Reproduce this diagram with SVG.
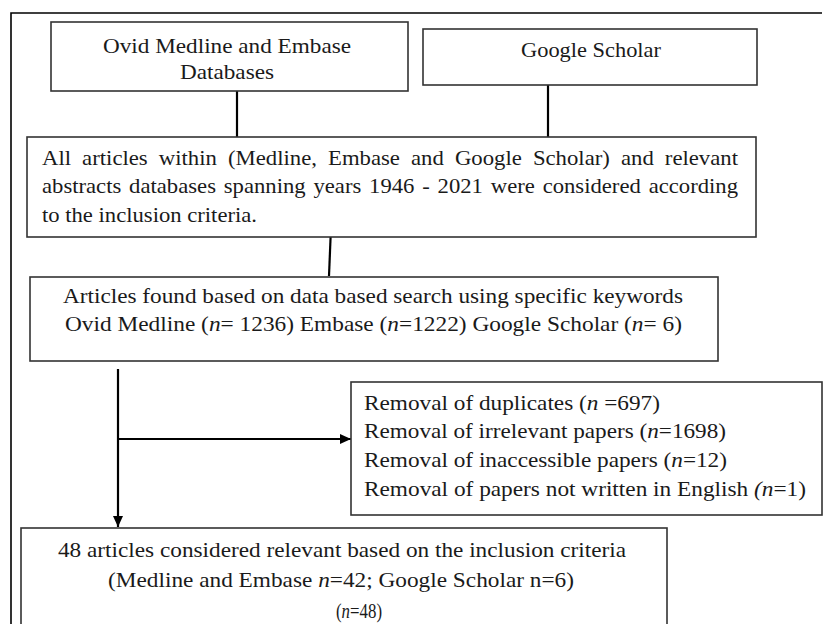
<svg xmlns="http://www.w3.org/2000/svg" width="823" height="624" viewBox="0 0 823 624">
<style>
.box{fill:#fff;stroke:#333;stroke-width:1.6}
.t{font-family:'Liberation Serif','Times New Roman','DejaVu Serif',serif;font-size:21px;fill:#1a1a1a}
.i{font-style:italic}
.c{stroke:#000;stroke-width:2.2;fill:none}
.frame{stroke:#000;stroke-width:1.6;fill:none}
</style>
<defs>
<marker id="arr" markerUnits="userSpaceOnUse" markerWidth="12" markerHeight="10" refX="11" refY="5" orient="auto">
<path d="M0,0 L11,5 L0,10 z" fill="#000"/>
</marker>
</defs>
<rect width="823" height="624" fill="#fff"/>
<g id="frame">
<path class="frame" d="M11,624 V13 H822"/>
</g>
<g id="connectors">
<line class="c" x1="237" y1="91" x2="237" y2="137"/>
<line class="c" x1="548" y1="85" x2="548" y2="137"/>
<line class="c" x1="331" y1="227" x2="329" y2="276"/>
<line class="c" x1="118" y1="369" x2="118" y2="527" marker-end="url(#arr)"/>
<line class="c" x1="118" y1="439" x2="351" y2="439" marker-end="url(#arr)"/>
</g>
<g id="ovid">
<rect class="box" x="51" y="22" width="357" height="69"/>
<text class="t" x="103" y="53" textLength="248" lengthAdjust="spacingAndGlyphs">Ovid Medline and Embase</text>
<text class="t" x="180" y="79" textLength="94" lengthAdjust="spacingAndGlyphs">Databases</text>
</g>
<g id="google">
<rect class="box" x="423" y="29" width="334" height="56"/>
<text class="t" x="521" y="57" textLength="140" lengthAdjust="spacingAndGlyphs">Google Scholar</text>
</g>
<g id="all-articles">
<rect class="box" x="27" y="137" width="729" height="100"/>
<text class="t" x="42" y="165" word-spacing="5" textLength="696" lengthAdjust="spacingAndGlyphs">All articles within (Medline, Embase and Google Scholar) and relevant</text>
<text class="t" x="42" y="193" word-spacing="2" textLength="696" lengthAdjust="spacingAndGlyphs">abstracts databases spanning years 1946 - 2021 were considered according</text>
<text class="t" x="42" y="222" textLength="215" lengthAdjust="spacingAndGlyphs">to the inclusion criteria.</text>
</g>
<g id="articles-found">
<rect class="box" x="30" y="277" width="688" height="84"/>
<text class="t" x="63" y="303" textLength="620" lengthAdjust="spacingAndGlyphs">Articles found based on data based search using specific keywords</text>
<text class="t" x="65" y="331" textLength="617" lengthAdjust="spacingAndGlyphs">Ovid Medline (<tspan class="i">n</tspan>= 1236) Embase (<tspan class="i">n</tspan>=1222) Google Scholar (<tspan class="i">n</tspan>= 6)</text>
</g>
<g id="removal">
<rect class="box" x="351" y="382" width="471" height="133"/>
<text class="t" x="364" y="410" textLength="296" lengthAdjust="spacingAndGlyphs">Removal of duplicates (<tspan class="i">n</tspan> =697)</text>
<text class="t" x="364" y="438" textLength="362" lengthAdjust="spacingAndGlyphs">Removal of irrelevant papers (<tspan class="i">n</tspan>=1698)</text>
<text class="t" x="364" y="467" textLength="363" lengthAdjust="spacingAndGlyphs">Removal of inaccessible papers (<tspan class="i">n</tspan>=12)</text>
<text class="t" x="364" y="496" textLength="442" lengthAdjust="spacingAndGlyphs">Removal of papers not written in English <tspan class="i">(n</tspan>=1)</text>
</g>
<g id="relevant">
<rect class="box" x="21" y="528" width="646" height="120"/>
<text class="t" x="58" y="557" textLength="568" lengthAdjust="spacingAndGlyphs">48 articles considered relevant based on the inclusion criteria</text>
<text class="t" x="108" y="587" textLength="466" lengthAdjust="spacingAndGlyphs">(Medline and Embase <tspan class="i">n</tspan>=42; Google Scholar n=6)</text>
<text class="t" x="336" y="618" textLength="46" lengthAdjust="spacingAndGlyphs">(<tspan class="i">n</tspan>=48)</text>
</g>
</svg>
